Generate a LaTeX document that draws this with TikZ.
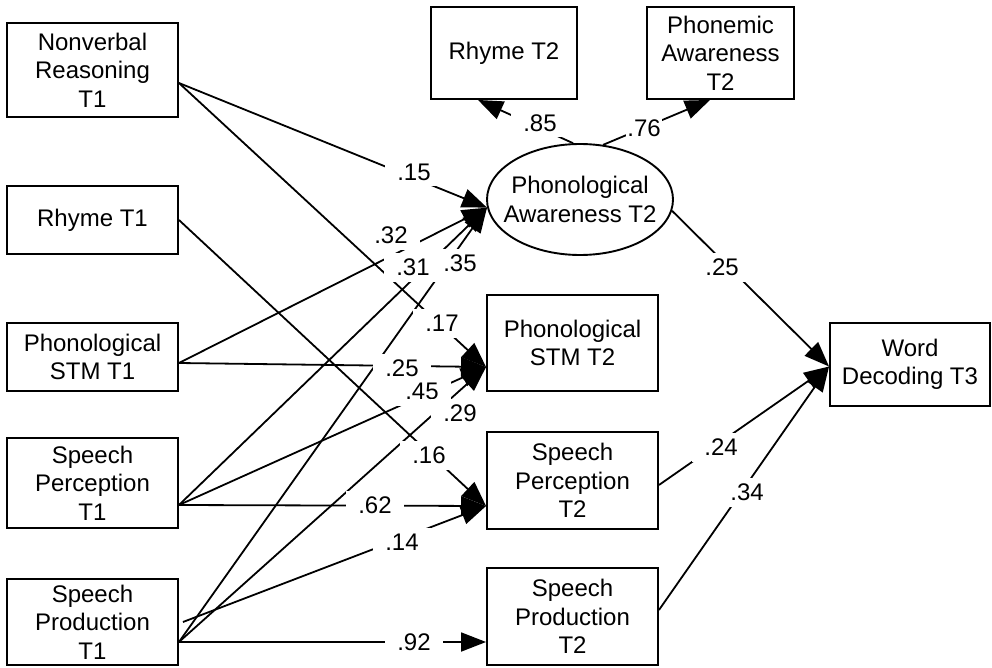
\documentclass[tikz,border=0pt]{standalone}
\usepackage{fontspec}
\setmainfont{Liberation Sans}
\usetikzlibrary{arrows.meta,shapes.geometric}
\begin{document}
\begin{tikzpicture}[x=1pt,y=-1pt,
  txt/.style={font=\fontsize{24}{28.5}\selectfont, align=center},
  box/.style={txt, draw, line width=1.9pt, inner sep=0pt},
  latent/.style={draw, ellipse, line width=1.9pt, inner sep=0pt},
  reg/.style={line width=1.8pt, -{Triangle[length=25pt,width=19pt]}},
  coef/.style={font=\fontsize{24}{28.5}\selectfont, fill=white,
    inner xsep=12pt, inner ysep=6pt, text height=17pt, text depth=0pt}
]
\useasboundingbox (0,0) rectangle (992,668);

% T1 predictors
\node[box, minimum width=171pt, minimum height=94pt] (nr)     at (92.5,70)  {Nonverbal\\Reasoning\\T1};
\node[box, minimum width=171pt, minimum height=68pt] (rt1)    at (92.5,220) {Rhyme T1};
\node[box, minimum width=171pt, minimum height=68pt] (pstm1)  at (92.5,357) {Phonological\\STM T1};
\node[box, minimum width=171pt, minimum height=90pt] (sp1)    at (92.5,483) {Speech\\Perception\\T1};
\node[box, minimum width=171pt, minimum height=86pt] (sprod1) at (92.5,622) {Speech\\Production\\T1};

% latent phonological awareness and its indicators
\node[latent, minimum width=186pt, minimum height=111pt] (pa) at (580,199.5) {};
\node[txt] (patext) at (pa.center) {Phonological\\Awareness T2};
\node[box, minimum width=146pt, minimum height=92pt] (rt2) at (504,53)   {Rhyme T2};
\node[box, minimum width=147pt, minimum height=92pt] (pa2) at (720.5,53) {Phonemic\\Awareness\\T2};

% T2 measures
\node[box, minimum width=171pt, minimum height=96pt] (pstm2)  at (572.5,343)   {Phonological\\STM T2};
\node[box, minimum width=171pt, minimum height=97pt] (sp2)    at (572.5,480.5) {Speech\\Perception\\T2};
\node[box, minimum width=171pt, minimum height=97pt] (sprod2) at (572.5,616.5) {Speech\\Production\\T2};

% outcome
\node[box, minimum width=160pt, minimum height=83pt] (wd) at (910,364.5) {Word\\Decoding T3};

% T1 -> T2 paths
\draw[reg] ([yshift=-13pt]nr.east) -- (pa.185);
\draw[reg] ([yshift=-13pt]nr.east) -- ([yshift=-24pt]pstm2.west);
\draw[reg] (rt1.east) -- ([yshift=-25.5pt]sp2.west);
\draw[reg] ([yshift=-6pt]pstm1.east) -- (pa.185);
\draw[reg] ([yshift=-6pt]pstm1.east) -- ([yshift=-24pt]pstm2.west);
\draw[reg] ([yshift=-22pt]sp1.east) -- (pa.185);
\draw[reg] ([yshift=-22pt]sp1.east) -- ([yshift=-24pt]pstm2.west);
\draw[reg] ([yshift=-22pt]sp1.east) -- ([yshift=-25.5pt]sp2.west);
\draw[reg] ([yshift=-20pt]sprod1.east) -- (pa.185);
\draw[reg] ([yshift=-20pt]sprod1.east) -- ([yshift=-24pt]pstm2.west);
\draw[reg] ([xshift=4pt]sprod1.east) -- ([yshift=-25.5pt]sp2.west);
\draw[reg] ([yshift=-20pt]sprod1.east) -- ([yshift=-25.5pt]sprod2.west);

% factor loadings
\draw[reg] (pa.97) -- ([xshift=-26pt]rt2.south);
\draw[reg] (pa.67) -- ([xshift=-10.5pt]pa2.south);

% T2 -> T3 paths
\draw[reg] (pa.353) -- ([yshift=-2pt]wd.west);
\draw[reg] ([yshift=-4.5pt]sp2.east) -- ([yshift=-2pt]wd.west);
\draw[reg] ([yshift=6.5pt]sprod2.east) -- ([yshift=-2pt]wd.west);

% coefficients
\node[coef] (c15)  at (414,172) {.15};
\node[coef] (c17)  at (442,323) {.17};
\node[coef] (c32)  at (391,235) {.32};
\node[coef] (c31)  at (413,267) {.31};
\node[coef] (c35)  at (460,263) {.35};
\node[coef] (c25a) at (402,368) {.25};
\node[coef] (c45)  at (422,391) {.45};
\node[coef] (c29)  at (460,413) {.29};
\node[coef] (c16)  at (429,455) {.16};
\node[coef] (c62)  at (375,505) {.62};
\node[coef] (c14)  at (402,542) {.14};
\node[coef] (c92)  at (414,642) {.92};
\node[coef] (c85)  at (540,123) {.85};
\node[coef, inner xsep=1pt] (c76) at (644,128) {.76};
\node[coef] (c25b) at (722,267) {.25};
\node[coef] (c24)  at (721,447) {.24};
\node[coef] (c34)  at (747,492) {.34};
\end{tikzpicture}
\end{document}
